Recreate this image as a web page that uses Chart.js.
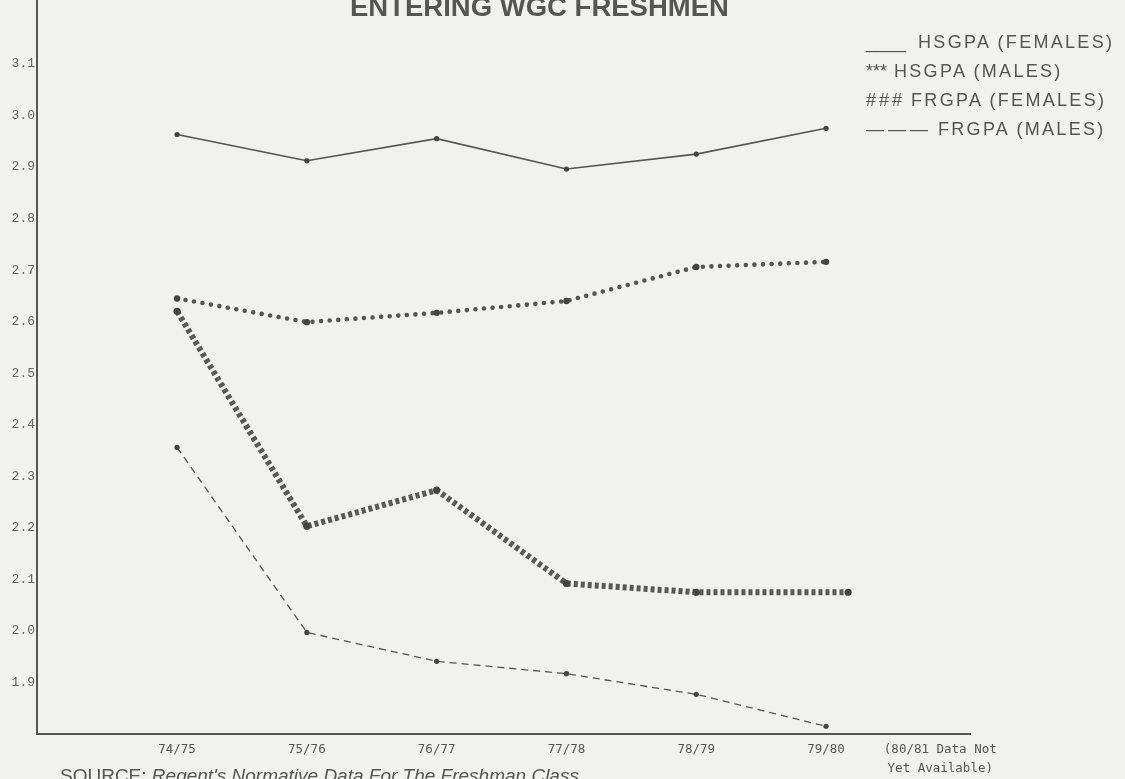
<!DOCTYPE html>
<html>
<head>
<meta charset="utf-8">
<script src="https://cdn.jsdelivr.net/npm/chart.js@4"></script>
<style>
  body { margin: 0; background: #f1f1ef; }
  .wrap { position: relative; width: 1125px; height: 779px; overflow: hidden; }
  canvas { position: absolute; left: 0; top: -3px; }
  .title {
    position: absolute; left: 350px; top: -9px;
    font: bold 27.5px "Liberation Sans", Arial, sans-serif; color: #555;
    white-space: nowrap;
  }
  .legend {
    position: absolute; left: 866px; top: 28px;
    font: 18px "Liberation Sans", Arial, sans-serif; color: #555;
    line-height: 29px; white-space: nowrap;
  }
  .legend .mk { display: inline-block; }
  .legend .txt { letter-spacing: 2.3px; }
  .source {
    position: absolute; left: 60px; top: 765px;
    font: 19px "Liberation Sans", Arial, sans-serif; color: #555;
    white-space: nowrap;
  }
</style>
</head>
<body>
<div class="wrap">
  <canvas id="gpaChart" width="1125" height="782"></canvas>
  <div class="title">ENTERING WGC FRESHMEN</div>
  <div class="legend">
    <div><span class="mk">____</span><span class="txt" style="margin-left:12px">HSGPA (FEMALES)</span></div>
    <div><span class="mk">***</span><span class="txt" style="margin-left:7px">HSGPA (MALES)</span></div>
    <div><span class="mk" style="letter-spacing:3px">###</span><span class="txt" style="margin-left:6px">FRGPA (FEMALES)</span></div>
    <div><span class="mk" style="letter-spacing:4px">———</span><span class="txt" style="margin-left:6px">FRGPA (MALES)</span></div>
  </div>
  <div class="source">SOURCE: <i>Regent's Normative Data For The Freshman Class</i></div>
</div>
<script>
// school years (x positions are the year index)
const years = ['74/75', '75/76', '76/77', '77/78', '78/79', '79/80'];
const yearPos = [0, 1, 2, 3, 4, 5];
// FRGPA (females) line runs a little past 79/80 in the original
const frgpaFemalePos = [0, 1, 2, 3, 4, 5.17];
const noteLabel = ['(80/81 Data Not', 'Yet Available)'];
const notePos = 5.88;

const hsgpaFemales = [2.963, 2.912, 2.955, 2.896, 2.925, 2.975];
const hsgpaMales = [2.645, 2.599, 2.617, 2.640, 2.706, 2.716];
const frgpaFemales = [2.620, 2.203, 2.273, 2.092, 2.075, 2.075];
const frgpaMales = [2.356, 1.997, 1.941, 1.917, 1.877, 1.815];

const yTicks = [1.9, 2.0, 2.1, 2.2, 2.3, 2.4, 2.5, 2.6, 2.7, 2.8, 2.9, 3.0, 3.1];

const ink = '#555';

function toPoints(xs, ys) {
  return ys.map((v, i) => ({ x: xs[i], y: v }));
}

const xTickValues = yearPos.concat([notePos]);
const xTickLabels = years.concat([noteLabel]);

new Chart(document.getElementById('gpaChart'), {
  type: 'line',
  data: {
    datasets: [
      {
        label: 'HSGPA (FEMALES)',
        data: toPoints(yearPos, hsgpaFemales),
        borderColor: ink,
        borderWidth: 1.6,
        pointRadius: 2.6,
        pointBackgroundColor: '#444',
        pointBorderWidth: 0
      },
      {
        label: 'HSGPA (MALES)',
        data: toPoints(yearPos, hsgpaMales),
        borderColor: '#555',
        borderWidth: 4.6,
        borderDash: [0, 8.6],
        borderCapStyle: 'round',
        pointRadius: 3.2,
        pointBackgroundColor: '#444',
        pointBorderWidth: 0
      },
      {
        label: 'FRGPA (FEMALES)',
        data: toPoints(frgpaFemalePos, frgpaFemales),
        borderColor: '#585858',
        borderWidth: 6,
        borderDash: [4, 3],
        pointRadius: 3.6,
        pointBackgroundColor: '#444',
        pointBorderWidth: 0
      },
      {
        label: 'FRGPA (MALES)',
        data: toPoints(yearPos, frgpaMales),
        borderColor: ink,
        borderWidth: 1.3,
        borderDash: [7, 5],
        pointRadius: 2.6,
        pointBackgroundColor: '#444',
        pointBorderWidth: 0
      }
    ]
  },
  options: {
    responsive: false,
    animation: false,
    layout: { padding: { top: 0, right: 155, bottom: 0, left: 0 } },
    plugins: {
      legend: { display: false },
      tooltip: { enabled: false }
    },
    scales: {
      x: {
        type: 'linear',
        min: -1.079,
        max: 6.109,
        grid: { display: false, drawTicks: false },
        border: { color: ink, width: 2 },
        afterBuildTicks: scale => {
          scale.ticks = xTickValues.map(v => ({ value: v }));
        },
        afterFit: scale => {
          scale.height = 45;
          scale.paddingLeft = 0;
          scale.paddingRight = 0;
        },
        ticks: {
          autoSkip: false,
          maxRotation: 0,
          padding: 6,
          color: '#555',
          font: { family: 'DejaVu Sans Mono', size: 12.5, lineHeight: 1.55 },
          callback: (value, index) => xTickLabels[index]
        }
      },
      y: {
        type: 'linear',
        min: 1.8,
        max: 3.222,
        grid: { display: false, drawTicks: false },
        border: { color: ink, width: 2 },
        afterBuildTicks: scale => {
          scale.ticks = yTicks.map(v => ({ value: v }));
        },
        afterFit: scale => {
          scale.width = 37;
          scale.paddingTop = 0;
          scale.paddingBottom = 0;
        },
        ticks: {
          padding: 2,
          color: '#666',
          font: { family: 'Liberation Mono', size: 13 },
          callback: value => value.toFixed(1)
        }
      }
    }
  }
});
</script>
</body>
</html>
